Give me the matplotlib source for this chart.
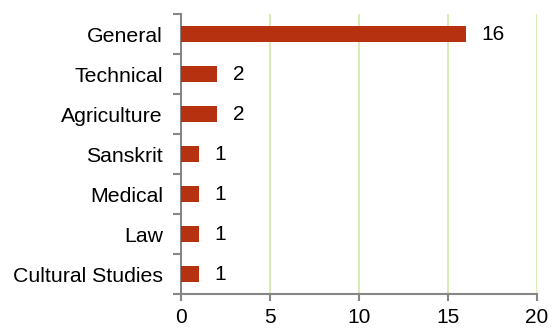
import matplotlib.pyplot as plt
import numpy as np

plt.rcParams['font.family'] = ['Liberation Sans', 'DejaVu Sans']

categories = ['General', 'Technical', 'Agriculture', 'Sanskrit', 'Medical', 'Law', 'Cultural Studies']
counts = [16, 2, 2, 1, 1, 1, 1]
x_ticks = [0, 5, 10, 15, 20]

fig = plt.figure(figsize=(5.52, 3.31), dpi=100)
ax = fig.add_axes([181 / 552, 1 - 294 / 331, 356 / 552, 280 / 331])

y = np.arange(len(categories))[::-1]
ax.barh(y, counts, height=0.42, color='#B5310F', zorder=3)
for yi, c in zip(y, counts):
    ax.text(c + 0.9, yi, str(c), va='center', ha='left', fontsize=15, color='black')

ax.set_xlim(0, 20)
ax.set_ylim(-0.5, len(categories) - 0.5)
ax.set_xticks(x_ticks)
ax.set_xticklabels([str(t) for t in x_ticks], fontsize=15)
ax.set_yticks(y)
ax.set_yticklabels(categories, fontsize=15.3)
ax.set_yticks(np.arange(len(categories) + 1) - 0.5, minor=True)

ax.grid(axis='x', color='#D4E8B2', linewidth=1.3, zorder=0)
ax.set_axisbelow(True)

for s in ['top', 'right']:
    ax.spines[s].set_visible(False)
for s in ['left', 'bottom']:
    ax.spines[s].set_color('#868686')
    ax.spines[s].set_linewidth(1.5)

ax.tick_params(axis='y', which='major', length=0, pad=13)
ax.tick_params(axis='y', which='minor', length=6, width=1.5, color='#868686')
ax.tick_params(axis='x', length=5, width=1.5, color='#868686', pad=5)

fig.savefig('out.png', dpi=100)
